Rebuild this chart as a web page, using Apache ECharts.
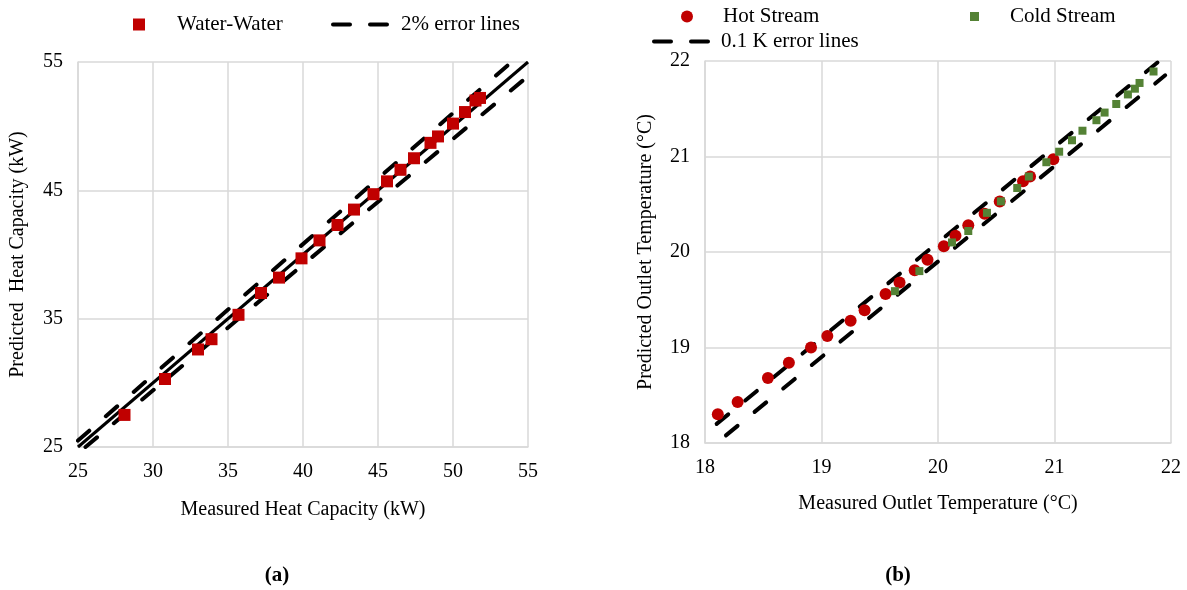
<!DOCTYPE html>
<html>
<head>
<meta charset="utf-8">
<script src="https://cdn.jsdelivr.net/npm/echarts@6/dist/echarts.min.js"></script>
<style>
  html, body { margin: 0; padding: 0; background: #fff; }
  #main { width: 1187px; height: 590px; }
</style>
</head>
<body>
<div id="main"></div>
<script>
// (a) heat capacity, kW
var waterMeasured  = [28.1, 30.8, 33.0, 33.9, 35.7, 37.2, 38.4, 39.9, 41.1, 42.3, 43.4, 44.7, 45.6, 46.5, 47.4, 48.5, 49.0, 50.0, 50.8, 51.5, 51.8];
var waterPredicted = [27.5, 30.3, 32.6, 33.4, 35.3, 37.0, 38.2, 39.7, 41.1, 42.3, 43.5, 44.7, 45.7, 46.6, 47.5, 48.7, 49.2, 50.2, 51.1, 52.0, 52.2];
var parityA = [[25, 25], [55, 55]];
var errUpperA = [[25, 25.5], [53.9, 55]];
var errLowerA = [[25.5, 25], [55, 53.9]];

// (b) outlet temperature, °C
var hotMeasured  = [18.11, 18.28, 18.54, 18.72, 18.91, 19.05, 19.25, 19.37, 19.55, 19.67, 19.80, 19.91, 20.05, 20.15, 20.26, 20.40, 20.53, 20.73, 20.79, 20.99];
var hotPredicted = [18.30, 18.43, 18.68, 18.84, 19.00, 19.12, 19.28, 19.39, 19.56, 19.68, 19.81, 19.92, 20.06, 20.17, 20.28, 20.40, 20.53, 20.74, 20.79, 20.97];
var coldMeasured  = [19.63, 19.84, 20.12, 20.26, 20.42, 20.54, 20.68, 20.78, 20.93, 21.04, 21.15, 21.24, 21.36, 21.43, 21.53, 21.63, 21.69, 21.73, 21.85];
var coldPredicted = [19.59, 19.80, 20.10, 20.22, 20.41, 20.53, 20.67, 20.79, 20.94, 21.05, 21.17, 21.27, 21.38, 21.46, 21.55, 21.65, 21.71, 21.77, 21.89];
var errUpperB = [[18.1, 18.2], [21.9, 22.0]];
var errLowerB = [[18.18, 18.08], [21.95, 21.85]];

var pairs = function (xs, ys) {
    var res = [];
    for (var i = 0; i < xs.length; i++) res.push([xs[i], ys[i]]);
    return res;
};

var FONT = '"Liberation Serif", "Times New Roman", serif';
var GRID_COLOR = '#d9d9d9';
var RED = '#C00000';
var GREEN = '#548235';
// two rounded dashes, used as the legend icon of the error lines
var DASH_ICON = 'path://M2,0 H19 A2,2 0 0 1 19,4 H2 A2,2 0 0 1 2,0 Z M39,0 H56 A2,2 0 0 1 56,4 H39 A2,2 0 0 1 39,0 Z';

var axisCommon = function (extra) {
    var base = {
        type: 'value',
        nameLocation: 'middle',
        nameTextStyle: { fontFamily: FONT, fontSize: 20, color: '#000' },
        axisLine: { show: true, lineStyle: { color: GRID_COLOR, width: 1.5 } },
        axisTick: { show: false },
        axisLabel: { fontFamily: FONT, fontSize: 20, color: '#000', margin: 15 },
        splitLine: { show: true, lineStyle: { color: GRID_COLOR, width: 1.5 } }
    };
    for (var k in extra) base[k] = extra[k];
    return base;
};

var dashStyle = { color: '#000', width: 4, type: [15, 22], cap: 'round' };
var legendText = function (padLeft) {
    return { fontFamily: FONT, fontSize: 21, color: '#000', padding: [0, 0, 0, padLeft] };
};

var myChart = echarts.init(document.getElementById('main'));
var option = {
    backgroundColor: '#fff',
    animation: false,
    title: [
        { text: '(a)', left: 272, top: 560, textAlign: 'center',
          textStyle: { fontFamily: FONT, fontSize: 21, fontWeight: 'bold', color: '#000' } },
        { text: '(b)', left: 893, top: 560, textAlign: 'center',
          textStyle: { fontFamily: FONT, fontSize: 21, fontWeight: 'bold', color: '#000' } }
    ],
    legend: [
        { data: ['Water-Water'], left: 128, top: 9, itemWidth: 12, itemHeight: 12,
          textStyle: legendText(27) },
        { data: [{ name: '2% error lines', icon: DASH_ICON }], left: 326, top: 9,
          itemWidth: 58, itemHeight: 4,
          itemStyle: { color: '#000', borderWidth: 0 },
          textStyle: legendText(7) },
        { data: ['Hot Stream'], left: 676, top: 1, itemWidth: 12, itemHeight: 12,
          textStyle: legendText(25) },
        { data: ['Cold Stream'], left: 965, top: 1, itemWidth: 9, itemHeight: 9,
          textStyle: legendText(26) },
        { data: [{ name: '0.1 K error lines', icon: DASH_ICON }], left: 647, top: 26,
          itemWidth: 58, itemHeight: 4,
          itemStyle: { color: '#000', borderWidth: 0 },
          textStyle: legendText(6) }
    ],
    grid: [
        { left: 78, top: 62, width: 450, height: 385 },
        { left: 705, top: 61, width: 466, height: 382 }
    ],
    xAxis: [
        axisCommon({ gridIndex: 0, min: 25, max: 55, interval: 5,
                     name: 'Measured Heat Capacity (kW)', nameGap: 53 }),
        axisCommon({ gridIndex: 1, min: 18, max: 22, interval: 1,
                     name: 'Measured Outlet Temperature (°C)', nameGap: 51 })
    ],
    yAxis: [
        axisCommon({ gridIndex: 0, min: 25, max: 55, interval: 10,
                     name: 'Predicted  Heat Capacity (kW)', nameGap: 50 }),
        axisCommon({ gridIndex: 1, min: 18, max: 22, interval: 1,
                     name: 'Predicted Outlet Temperature (°C)', nameGap: 49 })
    ],
    series: [
        {
            name: 'parity a', type: 'line', xAxisIndex: 0, yAxisIndex: 0,
            data: parityA, showSymbol: false, symbol: 'none',
            lineStyle: { color: '#000', width: 3 }, z: 2
        },
        {
            name: '2% error lines', type: 'line', xAxisIndex: 0, yAxisIndex: 0,
            data: errUpperA, showSymbol: false, symbol: 'none',
            itemStyle: { color: '#000' }, lineStyle: dashStyle, z: 2
        },
        {
            name: '2% error lines', type: 'line', xAxisIndex: 0, yAxisIndex: 0,
            data: errLowerA, showSymbol: false, symbol: 'none',
            itemStyle: { color: '#000' }, lineStyle: dashStyle, z: 2
        },
        {
            name: 'Water-Water', type: 'scatter', xAxisIndex: 0, yAxisIndex: 0,
            data: pairs(waterMeasured, waterPredicted),
            symbol: 'rect', symbolSize: 12,
            itemStyle: { color: RED, opacity: 1 }, z: 3
        },
        {
            name: '0.1 K error lines', type: 'line', xAxisIndex: 1, yAxisIndex: 1,
            data: errUpperB, showSymbol: false, symbol: 'none',
            itemStyle: { color: '#000' }, lineStyle: dashStyle, z: 2
        },
        {
            name: '0.1 K error lines', type: 'line', xAxisIndex: 1, yAxisIndex: 1,
            data: errLowerB, showSymbol: false, symbol: 'none',
            itemStyle: { color: '#000' }, lineStyle: dashStyle, z: 2
        },
        {
            name: 'Hot Stream', type: 'scatter', xAxisIndex: 1, yAxisIndex: 1,
            data: pairs(hotMeasured, hotPredicted),
            symbol: 'circle', symbolSize: 12,
            itemStyle: { color: RED, opacity: 1 }, z: 3
        },
        {
            name: 'Cold Stream', type: 'scatter', xAxisIndex: 1, yAxisIndex: 1,
            data: pairs(coldMeasured, coldPredicted),
            symbol: 'rect', symbolSize: 8,
            itemStyle: { color: GREEN, opacity: 1 }, z: 4
        }
    ]
};
myChart.setOption(option);
</script>
</body>
</html>
